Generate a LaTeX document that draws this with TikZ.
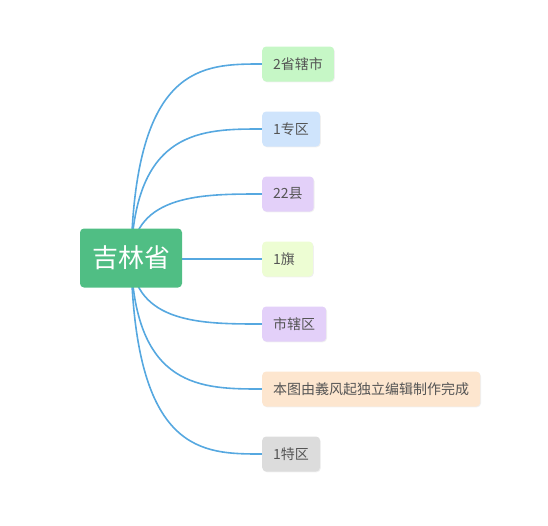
\documentclass[tikz,border=0pt]{standalone}
\usepackage{fontspec}
\setmainfont{Noto Sans CJK SC}
\usetikzlibrary{positioning,calc,backgrounds,shadows}
\definecolor{rootgreen}{HTML}{50BE84}
\definecolor{linkblue}{HTML}{56A8E0}
\definecolor{txtgrey}{HTML}{555555}
\definecolor{cgreen}{HTML}{C6F7C6}
\definecolor{cblue}{HTML}{CFE4FC}
\definecolor{cpurple}{HTML}{E3D0F9}
\definecolor{clime}{HTML}{EDFDD3}
\definecolor{cpeach}{HTML}{FDE6CF}
\definecolor{cgrey}{HTML}{DCDCDC}
\tikzset{
  rootbox/.style={fill=rootgreen, rounded corners=4pt, text=white, inner xsep=12pt,
              minimum height=59pt, minimum width=102pt, font=\fontsize{26}{30}\selectfont},
  leaf/.style={anchor=west, rounded corners=4pt, text=txtgrey, inner xsep=11pt,
              minimum height=35pt, font=\fontsize{14}{17}\selectfont,
              drop shadow={opacity=0.12, shadow xshift=0.8pt, shadow yshift=-0.8pt}},
  link/.style={draw=linkblue, line width=1.6pt},
}

\begin{document}
\begin{tikzpicture}[x=1pt, y=-1pt]
    \useasboundingbox (0,0) rectangle (548,525);
    \node[rootbox] (jl) at (131,258) {吉林省};
    \node[leaf, fill=cgreen] (shixia) at (262,64) {2省辖市};
    \node[leaf, fill=cblue] (zhuanqu) at (262,129) {1专区};
    \node[leaf, fill=cpurple] (xian) at (262,194) {22县};
    \node[leaf, fill=clime] (qi) at (262,259) {1旗\hspace*{7pt}};
    \node[leaf, fill=cpurple] (shiqu) at (262,324) {市辖区};
    \node[leaf, fill=cpeach] (zuozhe) at (262,389) {本图由義风起独立编辑制作完成};
    \node[leaf, fill=cgrey] (tequ) at (262,454) {1特区};
    \begin{scope}[on background layer]
      \draw[link] (jl.center) .. controls ([xshift=4pt]jl.center |- shixia.west) and ([xshift=-60pt]shixia.west) .. (shixia.west);
      \draw[link] (jl.center) .. controls ([xshift=4pt]jl.center |- zhuanqu.west) and ([xshift=-60pt]zhuanqu.west) .. (zhuanqu.west);
      \draw[link] (jl.center) .. controls ([xshift=4pt]jl.center |- xian.west) and ([xshift=-60pt]xian.west) .. (xian.west);
      \draw[link] (jl.center) -- (jl.center |- qi.west) -- (qi.west);
      \draw[link] (jl.center) .. controls ([xshift=4pt]jl.center |- shiqu.west) and ([xshift=-60pt]shiqu.west) .. (shiqu.west);
      \draw[link] (jl.center) .. controls ([xshift=4pt]jl.center |- zuozhe.west) and ([xshift=-60pt]zuozhe.west) .. (zuozhe.west);
      \draw[link] (jl.center) .. controls ([xshift=4pt]jl.center |- tequ.west) and ([xshift=-60pt]tequ.west) .. (tequ.west);
    \end{scope}
  \end{tikzpicture}
\end{document}
